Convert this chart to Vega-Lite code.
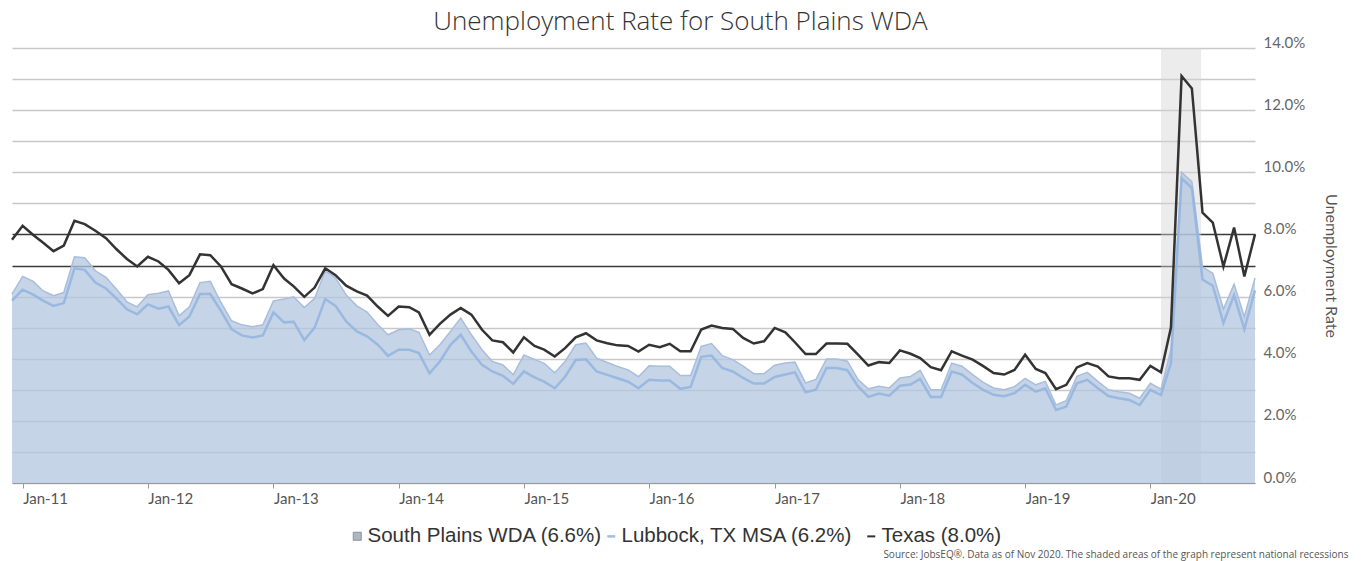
{
  "$schema": "https://vega.github.io/schema/vega-lite/v6.json",
  "width": 1243,
  "height": 435,
  "autosize": {"type": "none"},
  "padding": {"left": 12, "top": 48, "right": 108, "bottom": 78},
  "background": "white",
  "config": {"view": {"stroke": null}},
  "title": {"text": "Unemployment Rate for South Plains WDA", "font": "Open Sans", "fontSize": 26, "fontWeight": 300, "color": "#333333", "anchor": "middle", "dx": 47, "offset": 0},
  "datasets": {
    "recession": [{"start": "2020-02-01", "end": "2020-05-28"}],
    "rates": [
      {"d": "2010-12-01", "SP": 6.08, "LUB": 5.87, "TX": 7.83},
      {"d": "2011-01-01", "SP": 6.65, "LUB": 6.22, "TX": 8.28},
      {"d": "2011-02-01", "SP": 6.49, "LUB": 6.06, "TX": 7.98},
      {"d": "2011-03-01", "SP": 6.19, "LUB": 5.87, "TX": 7.74},
      {"d": "2011-04-01", "SP": 6.03, "LUB": 5.70, "TX": 7.46},
      {"d": "2011-05-01", "SP": 6.13, "LUB": 5.79, "TX": 7.64},
      {"d": "2011-06-01", "SP": 7.28, "LUB": 6.91, "TX": 8.44},
      {"d": "2011-07-01", "SP": 7.25, "LUB": 6.86, "TX": 8.33},
      {"d": "2011-08-01", "SP": 6.83, "LUB": 6.45, "TX": 8.12},
      {"d": "2011-09-01", "SP": 6.62, "LUB": 6.26, "TX": 7.88},
      {"d": "2011-10-01", "SP": 6.24, "LUB": 5.94, "TX": 7.53},
      {"d": "2011-11-01", "SP": 5.83, "LUB": 5.59, "TX": 7.21},
      {"d": "2011-12-01", "SP": 5.67, "LUB": 5.43, "TX": 6.97},
      {"d": "2012-01-01", "SP": 6.06, "LUB": 5.75, "TX": 7.28},
      {"d": "2012-02-01", "SP": 6.11, "LUB": 5.61, "TX": 7.13},
      {"d": "2012-03-01", "SP": 6.18, "LUB": 5.68, "TX": 6.86},
      {"d": "2012-04-01", "SP": 5.38, "LUB": 5.08, "TX": 6.43},
      {"d": "2012-05-01", "SP": 5.67, "LUB": 5.36, "TX": 6.69},
      {"d": "2012-06-01", "SP": 6.45, "LUB": 6.08, "TX": 7.36},
      {"d": "2012-07-01", "SP": 6.49, "LUB": 6.08, "TX": 7.33},
      {"d": "2012-08-01", "SP": 5.81, "LUB": 5.54, "TX": 6.97},
      {"d": "2012-09-01", "SP": 5.22, "LUB": 4.95, "TX": 6.40},
      {"d": "2012-10-01", "SP": 5.09, "LUB": 4.75, "TX": 6.26},
      {"d": "2012-11-01", "SP": 5.03, "LUB": 4.68, "TX": 6.10},
      {"d": "2012-12-01", "SP": 5.09, "LUB": 4.75, "TX": 6.24},
      {"d": "2013-01-01", "SP": 5.86, "LUB": 5.49, "TX": 7.01},
      {"d": "2013-02-01", "SP": 5.92, "LUB": 5.17, "TX": 6.58},
      {"d": "2013-03-01", "SP": 5.99, "LUB": 5.19, "TX": 6.33},
      {"d": "2013-04-01", "SP": 5.65, "LUB": 4.60, "TX": 5.99},
      {"d": "2013-05-01", "SP": 5.94, "LUB": 5.00, "TX": 6.29},
      {"d": "2013-06-01", "SP": 6.83, "LUB": 5.92, "TX": 6.91},
      {"d": "2013-07-01", "SP": 6.60, "LUB": 5.70, "TX": 6.69},
      {"d": "2013-08-01", "SP": 6.05, "LUB": 5.20, "TX": 6.35},
      {"d": "2013-09-01", "SP": 5.70, "LUB": 4.88, "TX": 6.17},
      {"d": "2013-10-01", "SP": 5.50, "LUB": 4.72, "TX": 6.03},
      {"d": "2013-11-01", "SP": 5.10, "LUB": 4.45, "TX": 5.68},
      {"d": "2013-12-01", "SP": 4.77, "LUB": 4.09, "TX": 5.38},
      {"d": "2014-01-01", "SP": 4.93, "LUB": 4.29, "TX": 5.68},
      {"d": "2014-02-01", "SP": 4.96, "LUB": 4.29, "TX": 5.66},
      {"d": "2014-03-01", "SP": 4.85, "LUB": 4.18, "TX": 5.49},
      {"d": "2014-04-01", "SP": 4.12, "LUB": 3.53, "TX": 4.77},
      {"d": "2014-05-01", "SP": 4.45, "LUB": 3.91, "TX": 5.12},
      {"d": "2014-06-01", "SP": 4.88, "LUB": 4.45, "TX": 5.42},
      {"d": "2014-07-01", "SP": 5.31, "LUB": 4.77, "TX": 5.63},
      {"d": "2014-08-01", "SP": 4.77, "LUB": 4.23, "TX": 5.42},
      {"d": "2014-09-01", "SP": 4.29, "LUB": 3.80, "TX": 4.93},
      {"d": "2014-10-01", "SP": 3.91, "LUB": 3.59, "TX": 4.59},
      {"d": "2014-11-01", "SP": 3.80, "LUB": 3.45, "TX": 4.53},
      {"d": "2014-12-01", "SP": 3.48, "LUB": 3.19, "TX": 4.20},
      {"d": "2015-01-01", "SP": 4.12, "LUB": 3.59, "TX": 4.69},
      {"d": "2015-02-01", "SP": 3.98, "LUB": 3.40, "TX": 4.41},
      {"d": "2015-03-01", "SP": 3.85, "LUB": 3.26, "TX": 4.29},
      {"d": "2015-04-01", "SP": 3.55, "LUB": 3.05, "TX": 4.07},
      {"d": "2015-05-01", "SP": 3.91, "LUB": 3.42, "TX": 4.34},
      {"d": "2015-06-01", "SP": 4.45, "LUB": 3.96, "TX": 4.69},
      {"d": "2015-07-01", "SP": 4.50, "LUB": 3.98, "TX": 4.82},
      {"d": "2015-08-01", "SP": 4.02, "LUB": 3.59, "TX": 4.59},
      {"d": "2015-09-01", "SP": 3.88, "LUB": 3.48, "TX": 4.50},
      {"d": "2015-10-01", "SP": 3.75, "LUB": 3.37, "TX": 4.43},
      {"d": "2015-11-01", "SP": 3.64, "LUB": 3.26, "TX": 4.41},
      {"d": "2015-12-01", "SP": 3.42, "LUB": 3.05, "TX": 4.23},
      {"d": "2016-01-01", "SP": 3.77, "LUB": 3.32, "TX": 4.45},
      {"d": "2016-02-01", "SP": 3.76, "LUB": 3.30, "TX": 4.37},
      {"d": "2016-03-01", "SP": 3.76, "LUB": 3.30, "TX": 4.48},
      {"d": "2016-04-01", "SP": 3.46, "LUB": 3.03, "TX": 4.24},
      {"d": "2016-05-01", "SP": 3.46, "LUB": 3.09, "TX": 4.24},
      {"d": "2016-06-01", "SP": 4.40, "LUB": 4.06, "TX": 4.94},
      {"d": "2016-07-01", "SP": 4.49, "LUB": 4.10, "TX": 5.07},
      {"d": "2016-08-01", "SP": 4.10, "LUB": 3.70, "TX": 4.99},
      {"d": "2016-09-01", "SP": 3.97, "LUB": 3.59, "TX": 4.96},
      {"d": "2016-10-01", "SP": 3.76, "LUB": 3.38, "TX": 4.67},
      {"d": "2016-11-01", "SP": 3.52, "LUB": 3.20, "TX": 4.49},
      {"d": "2016-12-01", "SP": 3.52, "LUB": 3.20, "TX": 4.56},
      {"d": "2017-01-01", "SP": 3.79, "LUB": 3.41, "TX": 4.99},
      {"d": "2017-02-01", "SP": 3.86, "LUB": 3.49, "TX": 4.85},
      {"d": "2017-03-01", "SP": 3.89, "LUB": 3.56, "TX": 4.53},
      {"d": "2017-04-01", "SP": 3.22, "LUB": 2.92, "TX": 4.15},
      {"d": "2017-05-01", "SP": 3.33, "LUB": 3.00, "TX": 4.15},
      {"d": "2017-06-01", "SP": 3.99, "LUB": 3.70, "TX": 4.49},
      {"d": "2017-07-01", "SP": 3.99, "LUB": 3.70, "TX": 4.49},
      {"d": "2017-08-01", "SP": 3.92, "LUB": 3.63, "TX": 4.48},
      {"d": "2017-09-01", "SP": 3.33, "LUB": 3.11, "TX": 4.13},
      {"d": "2017-10-01", "SP": 3.03, "LUB": 2.77, "TX": 3.78},
      {"d": "2017-11-01", "SP": 3.11, "LUB": 2.88, "TX": 3.89},
      {"d": "2017-12-01", "SP": 3.06, "LUB": 2.81, "TX": 3.86},
      {"d": "2018-01-01", "SP": 3.38, "LUB": 3.13, "TX": 4.27},
      {"d": "2018-02-01", "SP": 3.43, "LUB": 3.17, "TX": 4.16},
      {"d": "2018-03-01", "SP": 3.63, "LUB": 3.35, "TX": 4.02},
      {"d": "2018-04-01", "SP": 3.00, "LUB": 2.77, "TX": 3.73},
      {"d": "2018-05-01", "SP": 3.00, "LUB": 2.77, "TX": 3.63},
      {"d": "2018-06-01", "SP": 3.86, "LUB": 3.59, "TX": 4.24},
      {"d": "2018-07-01", "SP": 3.76, "LUB": 3.49, "TX": 4.10},
      {"d": "2018-08-01", "SP": 3.49, "LUB": 3.22, "TX": 3.97},
      {"d": "2018-09-01", "SP": 3.24, "LUB": 3.00, "TX": 3.76},
      {"d": "2018-10-01", "SP": 3.06, "LUB": 2.84, "TX": 3.54},
      {"d": "2018-11-01", "SP": 3.00, "LUB": 2.79, "TX": 3.49},
      {"d": "2018-12-01", "SP": 3.10, "LUB": 2.89, "TX": 3.64},
      {"d": "2019-01-01", "SP": 3.37, "LUB": 3.16, "TX": 4.13},
      {"d": "2019-02-01", "SP": 3.16, "LUB": 2.94, "TX": 3.67},
      {"d": "2019-03-01", "SP": 3.27, "LUB": 3.05, "TX": 3.54},
      {"d": "2019-04-01", "SP": 2.51, "LUB": 2.35, "TX": 3.02},
      {"d": "2019-05-01", "SP": 2.65, "LUB": 2.46, "TX": 3.16},
      {"d": "2019-06-01", "SP": 3.43, "LUB": 3.21, "TX": 3.72},
      {"d": "2019-07-01", "SP": 3.56, "LUB": 3.32, "TX": 3.86},
      {"d": "2019-08-01", "SP": 3.27, "LUB": 3.05, "TX": 3.75},
      {"d": "2019-09-01", "SP": 3.00, "LUB": 2.80, "TX": 3.43},
      {"d": "2019-10-01", "SP": 2.94, "LUB": 2.73, "TX": 3.37},
      {"d": "2019-11-01", "SP": 2.89, "LUB": 2.67, "TX": 3.37},
      {"d": "2019-12-01", "SP": 2.73, "LUB": 2.51, "TX": 3.32},
      {"d": "2020-01-01", "SP": 3.21, "LUB": 3.00, "TX": 3.77},
      {"d": "2020-02-01", "SP": 3.02, "LUB": 2.83, "TX": 3.56},
      {"d": "2020-03-01", "SP": 4.29, "LUB": 3.86, "TX": 5.00},
      {"d": "2020-04-01", "SP": 10.0, "LUB": 9.80, "TX": 13.1},
      {"d": "2020-05-01", "SP": 9.70, "LUB": 9.50, "TX": 12.7},
      {"d": "2020-06-01", "SP": 6.95, "LUB": 6.55, "TX": 8.70},
      {"d": "2020-07-01", "SP": 6.75, "LUB": 6.35, "TX": 8.38},
      {"d": "2020-08-01", "SP": 5.60, "LUB": 5.15, "TX": 6.97},
      {"d": "2020-09-01", "SP": 6.40, "LUB": 6.05, "TX": 8.22},
      {"d": "2020-10-01", "SP": 5.35, "LUB": 4.95, "TX": 6.65},
      {"d": "2020-11-01", "SP": 6.60, "LUB": 6.20, "TX": 8.00}
    ]
  },
  "layer": [
    {
      "data": {"name": "recession"},
      "mark": {"type": "rect", "color": "#d4d4d4", "opacity": 0.45},
      "encoding": {
        "x": {
          "field": "start", "type": "temporal",
          "scale": {"domain": [{"year": 2010, "month": 12, "date": 1, "utc": true}, {"year": 2020, "month": 11, "date": 1, "utc": true}]},
          "axis": {
            "values": [
              {"year": 2011, "month": 1, "date": 1, "utc": true},
              {"year": 2012, "month": 1, "date": 1, "utc": true},
              {"year": 2013, "month": 1, "date": 1, "utc": true},
              {"year": 2014, "month": 1, "date": 1, "utc": true},
              {"year": 2015, "month": 1, "date": 1, "utc": true},
              {"year": 2016, "month": 1, "date": 1, "utc": true},
              {"year": 2017, "month": 1, "date": 1, "utc": true},
              {"year": 2018, "month": 1, "date": 1, "utc": true},
              {"year": 2019, "month": 1, "date": 1, "utc": true},
              {"year": 2020, "month": 1, "date": 1, "utc": true}
            ],
            "tickCount": 20,
            "format": "%b-%y",
            "labelAlign": "left",
            "labelFont": "Lato",
            "labelFontSize": 15,
            "labelColor": "#555555",
            "labelPadding": 3,
            "labelOverlap": false,
            "labelFlush": false,
            "tickSize": 5,
            "tickColor": "#999999",
            "domainColor": "#999999",
            "grid": false,
            "title": "Source: JobsEQ®. Data as of Nov 2020. The shaded areas of the graph represent national recessions",
            "titleFont": "Open Sans",
            "titleFontSize": 10,
            "titleFontWeight": "normal",
            "titleColor": "#555555",
            "titleAnchor": "end",
            "titleAlign": "right",
            "titleBaseline": "alphabetic",
            "titleX": 1336,
            "titleY": 74
          }
        },
        "x2": {"field": "end"},
        "y": {"datum": 0, "type": "quantitative",
          "scale": {"domain": [0, 14], "nice": false},
          "axis": {
            "orient": "right",
            "values": [0, 1, 2, 3, 4, 5, 6, 7, 8, 9, 10, 11, 12, 13, 14],
            "tickCount": 20,
            "labelExpr": "datum.value % 2 === 0 ? format(datum.value, '.1f') + '%' : ''",
            "labelOverlap": false,
            "grid": true,
            "gridColor": {"condition": {"test": "datum.value === 7 || datum.value === 8", "value": "#3a3a3a"}, "value": "#c8c8c8"},
            "gridWidth": 1.4,
            "domain": false,
            "ticks": false,
            "labelFont": "Lato",
            "labelFontSize": 15,
            "labelColor": "#666666",
            "labelPadding": 8,
            "labelOffset": -6,
            "title": "Unemployment Rate",
            "titleFont": "Lato",
            "titleFontSize": 16,
            "titleFontWeight": "normal",
            "titleColor": "#555555",
            "titlePadding": 18
          }
        },
        "y2": {"datum": 14}
      }
    },
    {
      "data": {"name": "rates"},
      "transform": [{"fold": ["SP"], "as": ["s", "v"]}, {"filter": "datum.v < 0"}],
      "mark": {"type": "area"},
      "encoding": {
        "x": {"field": "d", "type": "temporal"},
        "y": {"field": "v", "type": "quantitative"},
        "fill": {
          "field": "s", "type": "nominal",
          "scale": {"domain": ["SP"], "range": ["#aeb6c4"]},
          "legend": {
            "orient": "none",
            "legendX": 335,
            "legendY": 478,
            "direction": "horizontal",
            "title": null,
            "labelExpr": "'South Plains WDA (6.6%)'",
            "labelFont": "Liberation Sans",
            "labelFontSize": 20.5,
            "labelColor": "#333333",
            "labelLimit": 400,
            "labelOffset": 0,
            "symbolType": "square",
            "symbolSize": 64,
            "symbolStrokeColor": "#8c9099",
            "symbolStrokeWidth": 1,
            "symbolOpacity": 1
          }
        }
      }
    },
    {
      "data": {"name": "rates"},
      "transform": [{"fold": ["SP"], "as": ["s", "v"]}],
      "mark": {"type": "area", "color": "#b3c6df", "opacity": 0.75},
      "encoding": {
        "x": {"field": "d", "type": "temporal"},
        "y": {"field": "v", "type": "quantitative"}
      }
    },
    {
      "data": {"name": "rates"},
      "transform": [{"fold": ["SP"], "as": ["s", "v"]}],
      "mark": {"type": "line", "stroke": "#a8bedc", "strokeWidth": 1.5},
      "encoding": {
        "x": {"field": "d", "type": "temporal"},
        "y": {"field": "v", "type": "quantitative"}
      }
    },
    {
      "data": {"name": "rates"},
      "transform": [{"fold": ["LUB", "TX"], "as": ["s", "v"]}],
      "mark": {"type": "line", "strokeWidth": 2.5},
      "encoding": {
        "x": {"field": "d", "type": "temporal"},
        "y": {"field": "v", "type": "quantitative"},
        "stroke": {
          "field": "s", "type": "nominal",
          "scale": {"domain": ["LUB", "TX"], "range": ["#92b4df", "#333333"]},
          "legend": {
            "orient": "none",
            "legendX": 589,
            "legendY": 478,
            "direction": "horizontal",
            "title": null,
            "labelExpr": "datum.value === 'LUB' ? 'Lubbock, TX MSA (6.2%)' : 'Texas (8.0%)'",
            "labelFont": "Liberation Sans",
            "labelFontSize": 20.5,
            "labelColor": "#333333",
            "labelLimit": 400,
            "labelOffset": 0,
            "columnPadding": 8,
            "symbolType": "stroke",
            "symbolSize": 64,
            "symbolStrokeWidth": 2.5
          }
        },
        "strokeWidth": {
          "field": "s", "type": "nominal",
          "scale": {"domain": ["LUB", "TX"], "range": [2.5, 2]},
          "legend": null
        },
        "opacity": {
          "field": "s", "type": "nominal",
          "scale": {"domain": ["LUB", "TX"], "range": [0.85, 1]},
          "legend": null
        }
      }
    }
  ]
}
